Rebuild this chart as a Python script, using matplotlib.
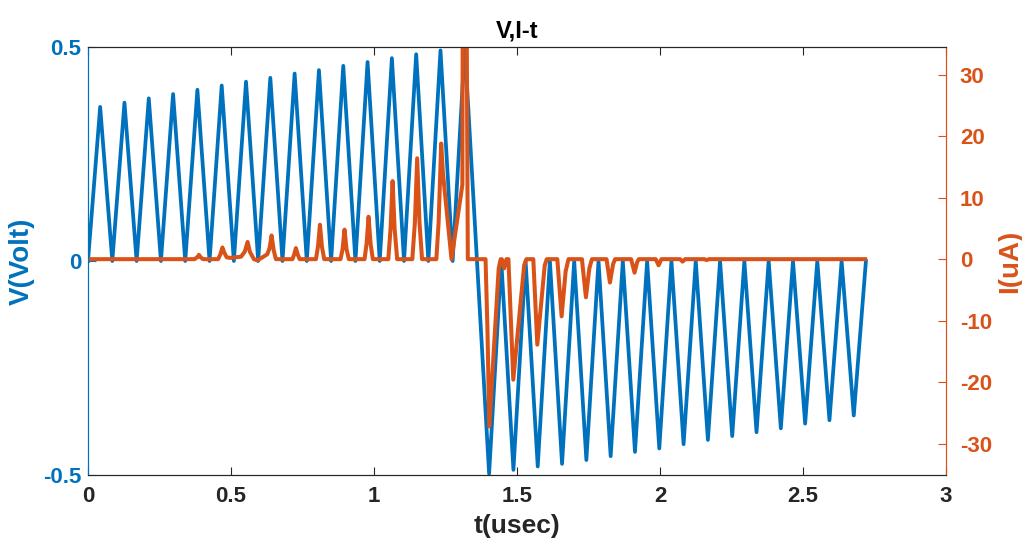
import matplotlib
matplotlib.use("Agg")
import matplotlib.pyplot as plt

# ---- data -------------------------------------------------------------
# triangular sweep: time step between vertices (usec)
t_step = 0.0425
# positive peaks of the first half (V)
v_pos_peaks = [0.360, 0.370, 0.380, 0.390, 0.400, 0.410, 0.419, 0.428,
               0.438, 0.446, 0.456, 0.465, 0.474, 0.483, 0.492, 0.500]
# negative peaks of the second half (V)
v_neg_peaks = [-0.497, -0.488, -0.480, -0.474, -0.465, -0.456, -0.446, -0.438,
               -0.428, -0.418, -0.409, -0.400, -0.391, -0.380, -0.372, -0.361]

# current trace vertices (usec, uA)
i_time = [0.000, 0.372, 0.382, 0.388, 0.394, 0.402,
          0.455, 0.463, 0.470, 0.477, 0.485, 0.497, 0.535,
          0.548, 0.558, 0.566, 0.580, 0.592, 0.610, 0.627,
          0.635, 0.642, 0.649, 0.657,
          0.715, 0.721, 0.727, 0.733, 0.740,
          0.797, 0.804, 0.811, 0.818, 0.826,
          0.883, 0.890, 0.897, 0.904, 0.912,
          0.967, 0.974, 0.981, 0.988, 0.996,
          1.050, 1.058, 1.065, 1.072, 1.081,
          1.134, 1.143, 1.151, 1.159, 1.168,
          1.218, 1.226, 1.235, 1.241, 1.271, 1.309,
          1.311, 1.322, 1.328,
          1.390, 1.397, 1.403, 1.436, 1.443,
          1.447, 1.455, 1.463,
          1.470, 1.487, 1.525, 1.533,
          1.557, 1.571, 1.597, 1.604,
          1.641, 1.656, 1.670, 1.680,
          1.727, 1.741, 1.753, 1.762,
          1.813, 1.825, 1.836, 1.843,
          1.899, 1.911, 1.920, 1.926,
          1.985, 1.995, 2.005,
          2.070, 2.079, 2.088,
          2.155, 2.163, 2.171,
          2.717]
i_value = [0.0, 0.0, 0.3, 0.7, 0.3, 0.0,
           0.0, 0.8, 1.9, 1.0, 0.3, 0.2, 0.4,
           1.2, 2.8, 1.2, 0.0, -0.2, 0.3, 0.8,
           1.8, 3.85, 1.5, 0.0,
           0.0, 0.8, 1.8, 0.8, 0.0,
           0.0, 2.0, 5.6, 2.0, 0.0,
           0.0, 1.6, 4.8, 1.6, 0.0,
           0.0, 2.5, 6.9, 2.5, 0.0,
           0.0, 5.0, 12.7, 5.0, 0.0,
           0.0, 6.0, 16.4, 6.0, 0.0,
           0.0, 6.0, 18.8, 14.0, 0.0, 12.1,
           60.0, 60.0, 0.0,
           0.0, -12.0, -27.2, -1.5, 0.0,
           0.0, -1.5, 0.0,
           0.0, -19.6, -1.0, 0.0,
           0.0, -13.9, -1.0, 0.0,
           0.0, -9.3, -2.0, 0.0,
           0.0, -6.2, -1.5, 0.0,
           0.0, -3.8, -0.8, 0.0,
           0.0, -2.2, -0.5, 0.0,
           0.0, -1.0, 0.0,
           0.0, -0.4, 0.0,
           0.0, -0.15, 0.0,
           0.0]

x_ticks = [0, 0.5, 1, 1.5, 2, 2.5, 3]
x_tick_labels = ["0", "0.5", "1", "1.5", "2", "2.5", "3"]
v_ticks = [-0.5, 0, 0.5]
v_tick_labels = ["-0.5", "0", "0.5"]
i_ticks = [-30, -20, -10, 0, 10, 20, 30]
i_tick_labels = ["-30", "-20", "-10", "0", "10", "20", "30"]

# ---- voltage vertices: zeros between peaks, peak-to-peak at the polarity flip
v_time, v_value = [0.0], [0.0]
k = 0
for j, p in enumerate(v_pos_peaks):
    v_time.append((k + 1) * t_step)
    v_value.append(p)
    if j < len(v_pos_peaks) - 1:
        v_time.append((k + 2) * t_step)
        v_value.append(0.0)
    k += 2
k += 1
for n in v_neg_peaks:
    v_time += [k * t_step, (k + 1) * t_step]
    v_value += [n, 0.0]
    k += 2

# ---- style ------------------------------------------------------------
BLUE = "#0072BD"
ORANGE = "#D95319"
DARK = "#262626"
plt.rcParams["font.family"] = ["Liberation Sans", "DejaVu Sans"]
plt.rcParams["font.weight"] = "bold"
plt.rcParams["axes.unicode_minus"] = False

fig = plt.figure(figsize=(10.22, 5.43), dpi=100)
ax = fig.add_axes([88 / 1022, 68 / 543, 858 / 1022, 428 / 543])
ax2 = ax.twinx()

ax.plot(v_time, v_value, color=BLUE, lw=2.7, solid_joinstyle="round")
ax2.plot(i_time, i_value, color=ORANGE, lw=2.9, solid_joinstyle="round")

ax.set_xlim(0, 3)
ax.set_ylim(-0.5, 0.5)
ax2.set_ylim(-35.1, 34.5)

ax.set_xticks(x_ticks)
ax.set_xticklabels(x_tick_labels)
ax.set_yticks(v_ticks)
ax.set_yticklabels(v_tick_labels)
ax2.set_yticks(i_ticks)
ax2.set_yticklabels(i_tick_labels)

ax.tick_params(axis="x", direction="in", length=6, width=0.8, colors=DARK,
               labelsize=16, top=True, pad=8)
ax.tick_params(axis="y", direction="in", length=6, width=0.8, colors=BLUE,
               labelsize=16, pad=5)
ax2.tick_params(axis="y", direction="in", length=6, width=0.8, colors=ORANGE,
                labelsize=16, pad=10)

for a in (ax, ax2):
    a.spines["top"].set_color(DARK)
    a.spines["bottom"].set_color(DARK)
    a.spines["left"].set_color(BLUE)
    a.spines["right"].set_color(ORANGE)
    for s in a.spines.values():
        s.set_linewidth(0.8)

ax.set_title("V,I-t", fontsize=17, fontweight="bold", color="black", pad=7)
ax.set_xlabel("t(usec)", fontsize=19, fontweight="bold", color=DARK, labelpad=5)
ax.set_ylabel("V(Volt)", fontsize=20, fontweight="bold", color=BLUE, labelpad=6)
ax2.set_ylabel("I(uA)", fontsize=20, fontweight="bold", color=ORANGE, labelpad=4)

fig.savefig("out.png", dpi=100)
